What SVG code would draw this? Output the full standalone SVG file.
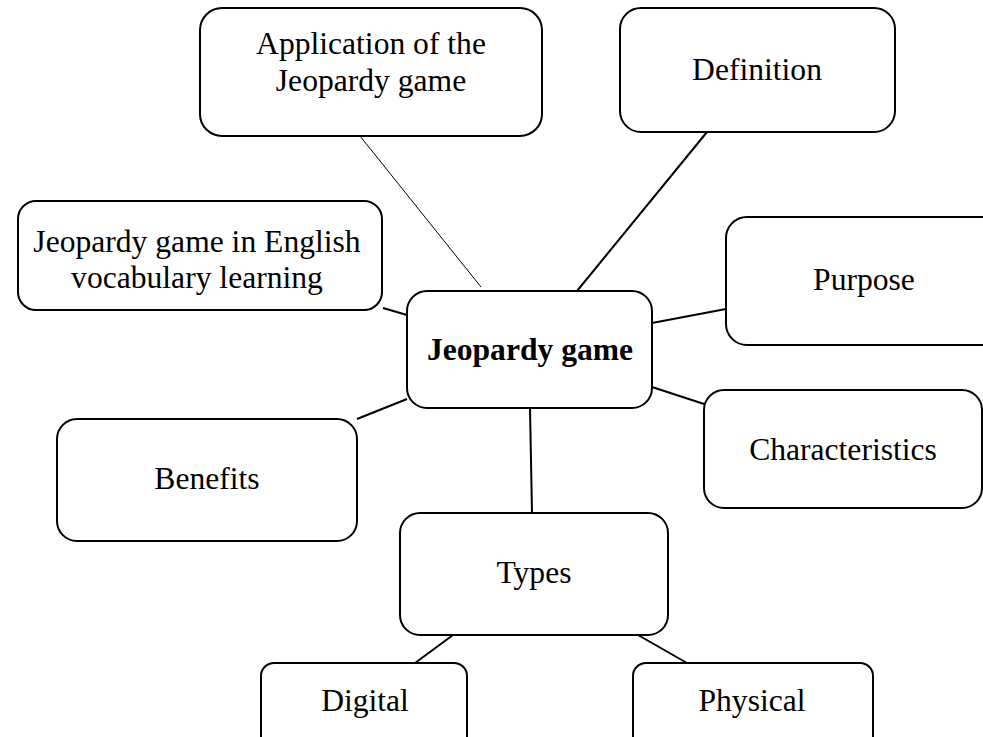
<svg xmlns="http://www.w3.org/2000/svg" width="983" height="737" viewBox="0 0 983 737">
<style>
.box{fill:#fff;stroke:#000;stroke-width:2}
.t{font-family:"Liberation Serif","Times New Roman",serif;font-size:31.6px;fill:#000;text-anchor:middle}
.b{font-weight:bold}
.c{stroke:#000;stroke-width:2;fill:none}
.thin{stroke-width:1}
</style>
<rect width="983" height="737" fill="#fff"/>
<g id="connectors">
<line class="c thin" x1="360" y1="136" x2="481" y2="287"/>
<line class="c" x1="707" y1="132" x2="577" y2="291"/>
<line class="c" x1="652" y1="323" x2="726" y2="309"/>
<line class="c" x1="652" y1="387" x2="704" y2="404"/>
<line class="c" x1="383" y1="308" x2="407" y2="315"/>
<line class="c" x1="357" y1="419" x2="407" y2="399"/>
<line class="c" x1="530" y1="408" x2="532" y2="513"/>
<line class="c" x1="453" y1="635" x2="415" y2="663"/>
<line class="c" x1="638" y1="635" x2="687" y2="663"/>
</g>
<g id="application">
<rect class="box" x="200" y="8" width="342" height="128" rx="22"/>
<text class="t" x="371" y="54">Application of the</text>
<text class="t" x="371" y="91">Jeopardy game</text>
</g>
<g id="definition">
<rect class="box" x="620" y="8" width="275" height="124" rx="21"/>
<text class="t" x="757" y="80">Definition</text>
</g>
<g id="english">
<rect class="box" x="18" y="201" width="364" height="109" rx="18"/>
<text class="t" x="197" y="252">Jeopardy game in English</text>
<text class="t" x="197" y="288">vocabulary learning</text>
</g>
<g id="purpose">
<rect class="box" x="726" y="217" width="276" height="128" rx="21"/>
<text class="t" x="864" y="290">Purpose</text>
</g>
<g id="center">
<rect class="box" x="407" y="291" width="245" height="117" rx="20"/>
<text class="t b" x="530" y="360">Jeopardy game</text>
</g>
<g id="characteristics">
<rect class="box" x="704" y="390" width="278" height="118" rx="20"/>
<text class="t" x="843" y="460">Characteristics</text>
</g>
<g id="benefits">
<rect class="box" x="57" y="419" width="300" height="122" rx="20"/>
<text class="t" x="207" y="489">Benefits</text>
</g>
<g id="types">
<rect class="box" x="400" y="513" width="268" height="122" rx="20"/>
<text class="t" x="534" y="583">Types</text>
</g>
<g id="digital">
<rect class="box" x="261" y="663" width="206" height="100" rx="13"/>
<text class="t" x="365" y="711">Digital</text>
</g>
<g id="physical">
<rect class="box" x="633" y="663" width="240" height="100" rx="13"/>
<text class="t" x="752" y="711">Physical</text>
</g>
</svg>
